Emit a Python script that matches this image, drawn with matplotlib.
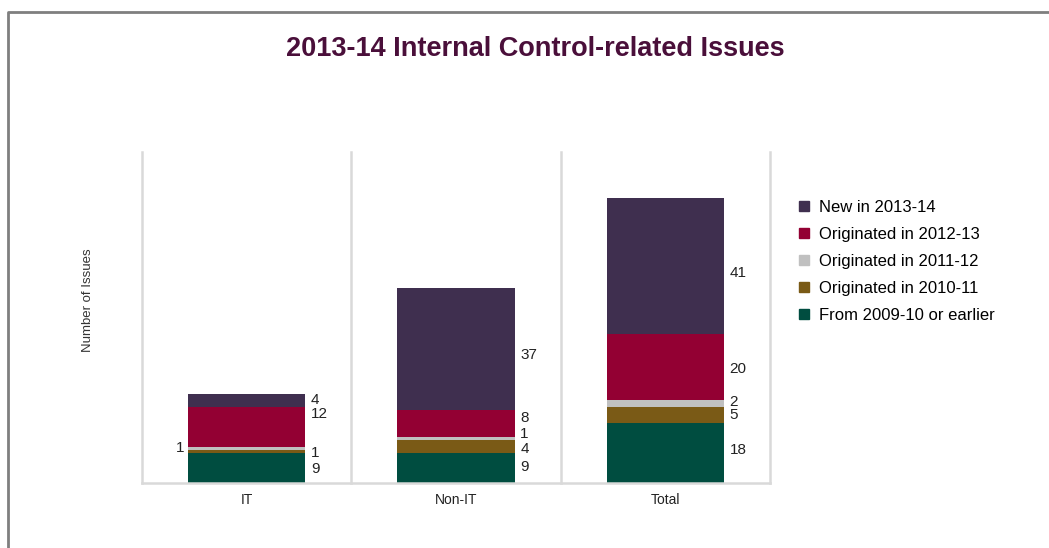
import matplotlib.pyplot as plt
from matplotlib.patches import Patch
from matplotlib.lines import Line2D

plt.rcParams['font.family'] = ['Liberation Sans', 'DejaVu Sans']

categories = ["IT", "Non-IT", "Total"]
series = ["From 2009-10 or earlier", "Originated in 2010-11", "Originated in 2011-12",
          "Originated in 2012-13", "New in 2013-14"]
values = {
    "From 2009-10 or earlier": [9, 9, 18],
    "Originated in 2010-11": [1, 4, 5],
    "Originated in 2011-12": [1, 1, 2],
    "Originated in 2012-13": [12, 8, 20],
    "New in 2013-14": [4, 37, 41],
}
colors = ["#004d40", "#7a5a16", "#c0c0c0", "#930033", "#3f2f4f"]

# label nudges in points (series x category), and which labels sit on the left
nudge = [[-1, 1, 2], [-1, -2, 0], [0, 3, 1], [9, 4, -1], [0, -4, -5]]
left_side = {(2, 0)}

fig = plt.figure(figsize=(10.49, 5.48), dpi=100)
ax = fig.add_axes([142 / 1049, 1 - 483 / 548, 628 / 1049, 331 / 548])

x = [i + 0.5 for i in range(len(categories))]
width = 0.56
bottom = [0] * len(categories)
for si, name in enumerate(series):
    vals = values[name]
    ax.bar(x, vals, width, bottom=bottom, color=colors[si], zorder=3)
    for ci, v in enumerate(vals):
        mid = bottom[ci] + v / 2
        if (si, ci) in left_side:
            ax.annotate(str(v), (x[ci] - width / 2, mid), xytext=(-3, nudge[si][ci]),
                        textcoords='offset points', ha='right', va='center',
                        fontsize=11, color='#222222')
        else:
            ax.annotate(str(v), (x[ci] + width / 2, mid), xytext=(4, nudge[si][ci]),
                        textcoords='offset points', ha='left', va='center',
                        fontsize=11, color='#222222')
    bottom = [b + v for b, v in zip(bottom, vals)]

ax.set_xlim(0, 3)
ax.set_ylim(0, 100)
for xv in range(4):
    ax.axvline(xv, color='#d9d9d9', lw=1.8, zorder=1, clip_on=False)
ax.axhline(0, color='#d9d9d9', lw=1.8, zorder=4, clip_on=False)
for s in ax.spines.values():
    s.set_visible(False)
ax.set_yticks([])
ax.set_xticks(x)
ax.set_xticklabels(categories, fontsize=10, color='#222222')
ax.tick_params(axis='x', length=0, pad=7)

fig.text(88 / 1049, 1 - 300 / 548, "Number of Issues", rotation=90, ha='center',
         va='center', fontsize=9.5, color='#333333')
fig.text(535 / 1049, 1 - 49 / 548, "2013-14 Internal Control-related Issues",
         ha='center', va='center', fontsize=19.5, fontweight='bold', color='#4a0f3a')

handles = [Patch(color=colors[i], label=series[i]) for i in reversed(range(len(series)))]
fig.legend(handles=handles, loc='upper left', bbox_to_anchor=(792 / 1049, 1 - 193 / 548),
           frameon=False, fontsize=12, handlelength=0.6, handleheight=0.6,
           handletextpad=0.6, labelspacing=0.72, borderaxespad=0)

fig.add_artist(Line2D([8 / 1049, 8 / 1049, 1], [0, 1 - 12 / 548, 1 - 12 / 548],
                      transform=fig.transFigure, color='#7f7f7f', lw=2))

fig.savefig("out.png", dpi=100)
